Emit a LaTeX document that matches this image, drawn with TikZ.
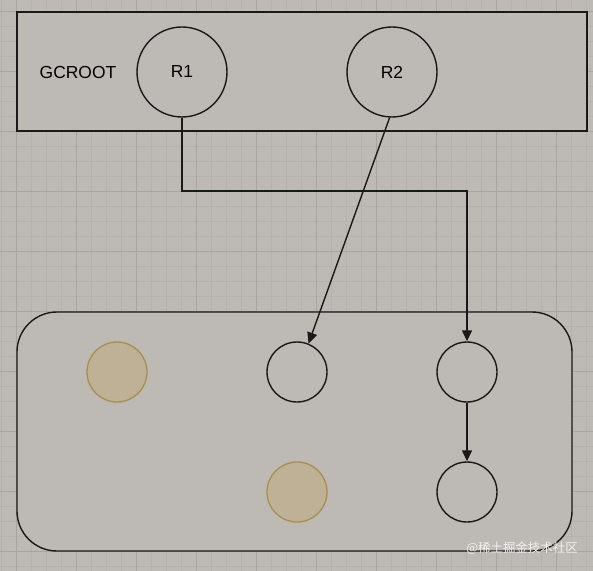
\documentclass[tikz,border=0pt]{standalone}
\usepackage{fontspec}
\setmainfont{Liberation Sans}
\newfontfamily\cjk{Noto Sans CJK SC}
\usetikzlibrary{arrows.meta}
\definecolor{bgc}{HTML}{BDB9B5}
\definecolor{minorc}{HTML}{B5B1AD}
\definecolor{majorc}{HTML}{A8A4A0}
\definecolor{fillc}{HTML}{BFB195}
\definecolor{strokec}{HTML}{A88F4A}
\begin{document}
\begin{tikzpicture}[x=1bp,y=-1bp,
  ln/.style={line width=1.4bp, draw=black!90},
  circ/.style={circle, ln, minimum size=60bp, inner sep=0pt},
  bigcirc/.style={circle, ln, minimum size=90bp, inner sep=0pt, font=\fontsize{17.5}{20}\selectfont},
  goldc/.style={circle, draw=strokec, fill=fillc, line width=1.3bp, minimum size=60bp, inner sep=0pt},
  arr/.style={ln, -{Triangle[length=11bp,width=10bp]}}]
\useasboundingbox (0,0) rectangle (593,571);
\fill[bgc] (0,0) rectangle (593,571);
\foreach \x in {1,16,...,593} \draw[minorc, line width=0.8bp] (\x,0) -- (\x,571);
\foreach \y in {11,26,...,571} \draw[minorc, line width=0.8bp] (0,\y) -- (593,\y);
\foreach \x in {16,76,...,593} \draw[majorc, line width=0.8bp] (\x,0) -- (\x,571);
\foreach \y in {11,71,...,571} \draw[majorc, line width=0.8bp] (0,\y) -- (593,\y);
% top box
\node[ln, fill=bgc, minimum width=570bp, minimum height=119bp, inner sep=0pt] (top) at (302,71.5) {};
\node[font=\fontsize{17.5}{20}\selectfont] (gc) at (78,72) {GCROOT};
\node[bigcirc] (r1) at (182,72) {R1};
\node[bigcirc] (r2) at (392,72) {R2};
% bottom box
\node[ln, fill=bgc, rounded corners=40bp, minimum width=555bp, minimum height=239bp, inner sep=0pt] (bot) at (294.5,431.5) {};
\node[goldc] (g1) at (117,372) {};
\node[goldc] (g2) at (297,492) {};
\node[circ] (c1) at (297,372) {};
\node[circ] (c2) at (467,372) {};
\node[circ] (c3) at (467,492) {};
\coordinate (k1) at (182,191);
\coordinate (k2) at (467,191);
\draw[arr] (r1.south) -- (k1) -- (k2) -- (c2.north);
\draw[arr] (r2.-93) -- (c1.68);
\draw[arr] (c2.south) -- (c3.north);
\node[font=\cjk\fontsize{12.5}{15}\selectfont, text=white!80!bgc, anchor=east, inner sep=0pt] (wm) at (578,548) {@稀土掘金技术社区};
\end{tikzpicture}
\end{document}
